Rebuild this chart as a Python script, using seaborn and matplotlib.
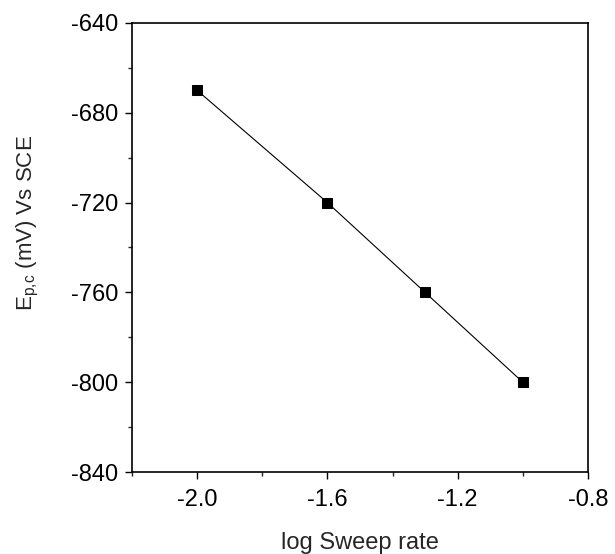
import matplotlib
matplotlib.use("Agg")
import matplotlib.pyplot as plt
import seaborn as sns
import pandas as pd
from matplotlib.ticker import MultipleLocator

log_rate = [-2.0, -1.6, -1.3, -1.0]
epc = [-670, -720, -760, -800]
x_ticks = [-2.0, -1.6, -1.2, -0.8]
y_ticks = [-840, -800, -760, -720, -680, -640]

sns.set_style("ticks")
plt.rcParams['font.family'] = ['Liberation Sans', 'DejaVu Sans']
plt.rcParams['mathtext.fontset'] = 'custom'
plt.rcParams['mathtext.rm'] = 'Liberation Sans'
plt.rcParams['mathtext.default'] = 'regular'

df = pd.DataFrame({"x": log_rate, "y": epc})
fig = plt.figure(figsize=(6.15, 5.54), dpi=100)
ax = fig.add_axes([0.2146, 0.148, 0.956 - 0.2146, 0.9585 - 0.148])
sns.lineplot(data=df, x="x", y="y", ax=ax, color="black", linewidth=0.8,
             marker="s", markersize=7.3, markeredgecolor="black", markerfacecolor="black")

ax.set_xlim(-2.2, -0.8)
ax.set_ylim(-840, -640)
ax.set_xticks(x_ticks)
ax.set_xticklabels([f"{v:.1f}" for v in x_ticks])
ax.set_yticks(y_ticks)
ax.set_yticklabels([f"{v}" for v in y_ticks])
ax.xaxis.set_minor_locator(MultipleLocator(0.2))
ax.yaxis.set_minor_locator(MultipleLocator(20))
ax.tick_params(axis='both', which='major', length=5, width=1, labelsize=17, colors='black', direction='out')
ax.tick_params(axis='x', which='major', pad=7)
ax.tick_params(axis='y', which='major', pad=5)
ax.tick_params(axis='both', which='minor', length=3, width=1, direction='out')
for s in ax.spines.values():
    s.set_color('black')
    s.set_linewidth(1.2)
ax.set_xlabel("log Sweep rate", fontsize=17, labelpad=15)
ax.set_ylabel(r"E$_{p{,}c}$ (mV) Vs SCE", fontsize=16)
ax.yaxis.set_label_coords(-0.2, 0.555)

fig.savefig("out.png", dpi=100)
